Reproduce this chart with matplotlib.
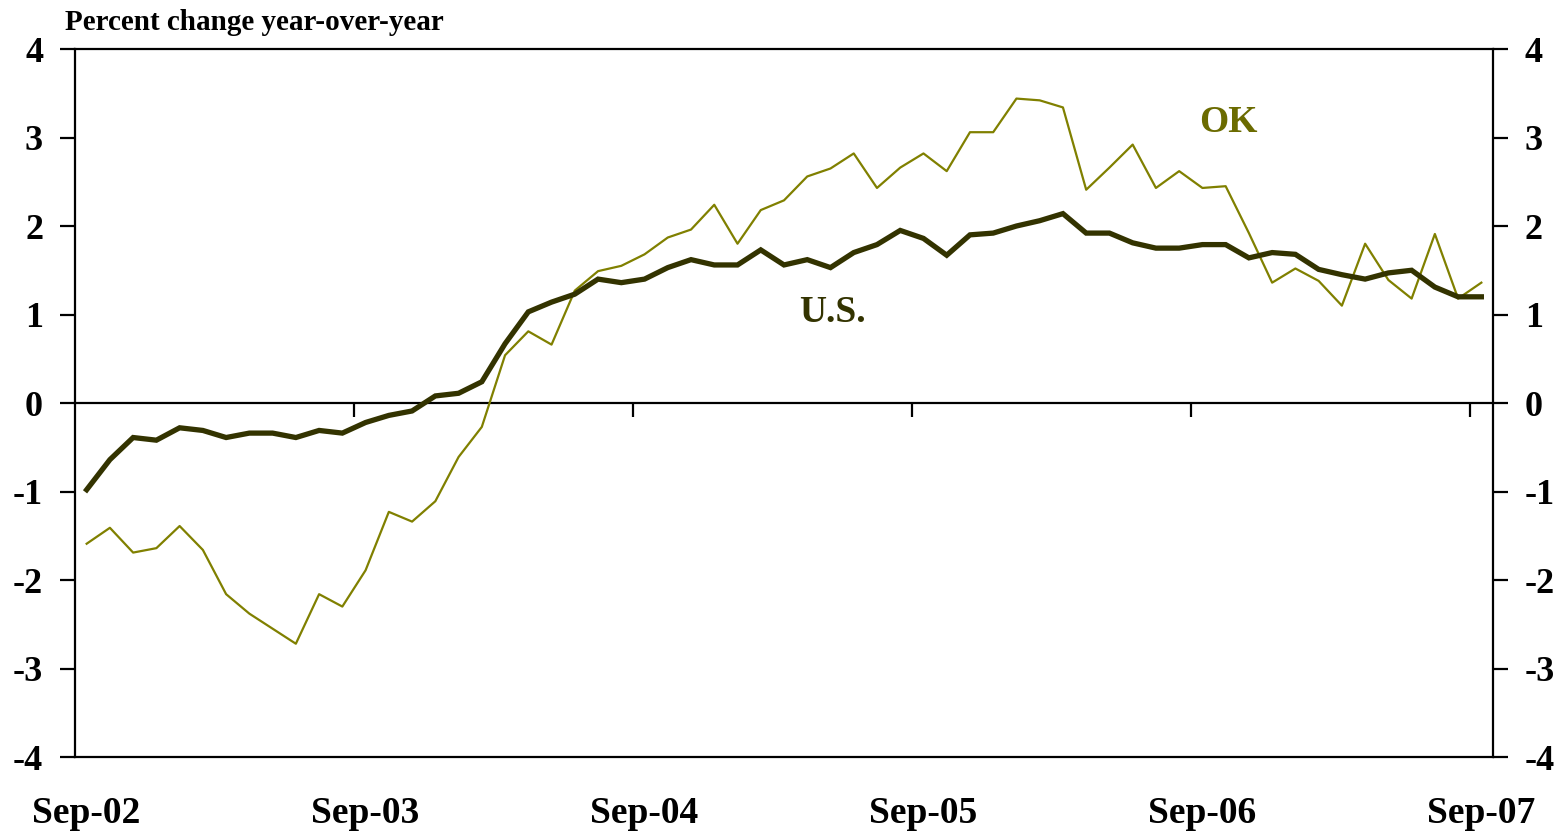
import matplotlib
matplotlib.use("Agg")
import matplotlib.pyplot as plt

plt.rcParams['font.family'] = ['Liberation Serif', 'DejaVu Serif']
plt.rcParams['font.weight'] = 'bold'

# monthly, Sep-02 .. Sep-07
us = [-0.98, -0.64, -0.39, -0.42, -0.28, -0.31, -0.39, -0.34, -0.34, -0.39, -0.31, -0.34,
      -0.22, -0.14, -0.09, 0.08, 0.11, 0.24, 0.67, 1.03, 1.14, 1.23, 1.40, 1.36,
      1.40, 1.53, 1.62, 1.56, 1.56, 1.73, 1.56, 1.62, 1.53, 1.70, 1.79, 1.95,
      1.86, 1.67, 1.90, 1.92, 2.00, 2.06, 2.14, 1.92, 1.92, 1.81, 1.75, 1.75,
      1.79, 1.79, 1.64, 1.70, 1.68, 1.51, 1.45, 1.40, 1.47, 1.50, 1.31, 1.20, 1.20]
ok = [-1.59, -1.41, -1.69, -1.64, -1.39, -1.66, -2.16, -2.38, -2.55, -2.72, -2.16, -2.30,
      -1.89, -1.23, -1.34, -1.11, -0.61, -0.27, 0.54, 0.81, 0.66, 1.27, 1.49, 1.55,
      1.68, 1.87, 1.96, 2.24, 1.80, 2.18, 2.29, 2.56, 2.65, 2.82, 2.43, 2.66,
      2.82, 2.62, 3.06, 3.06, 3.44, 3.42, 3.34, 2.41, 2.66, 2.92, 2.43, 2.62,
      2.43, 2.45, 1.92, 1.36, 1.52, 1.38, 1.10, 1.80, 1.39, 1.18, 1.91, 1.18, 1.36]
year_labels = ['Sep-02', 'Sep-03', 'Sep-04', 'Sep-05', 'Sep-06', 'Sep-07']
y_ticks = [-4, -3, -2, -1, 0, 1, 2, 3, 4]

us_color = '#333300'
ok_color = '#808000'

fig = plt.figure(figsize=(15.63, 8.35), dpi=100)
ax = fig.add_axes([0.048, 0.0934, 0.9072, 0.8479])

x = list(range(len(us)))
ax.plot(x, ok, color=ok_color, lw=1.6, zorder=3)
ax.plot(x, us, color=us_color, lw=3.8, zorder=4, solid_joinstyle='miter')

ax.set_xlim(-0.5, len(us) - 0.5)
ax.set_ylim(-4, 4)

for s in ax.spines.values():
    s.set_linewidth(1.6)
    s.set_color('black')

# y axis both sides
ax.set_yticks(y_ticks)
ax.set_yticklabels([str(v) for v in y_ticks])
ax.tick_params(axis='y', which='both', direction='out', length=11, width=1.6,
               left=True, right=True, labelleft=True, labelright=True,
               labelsize=26, pad=12)

# x labels at category centres, no tick marks on the frame
ax.set_xticks(x[::12])
ax.set_xticklabels(year_labels)
ax.tick_params(axis='x', length=0, labelsize=27, pad=28)

# zero line with year-boundary ticks
zero = ax.secondary_xaxis(0.5)
zero.set_xticks([i - 0.5 for i in x[12::12]])
zero.tick_params(direction='in', length=10, width=1.6, labelbottom=False, labeltop=False)
zero.spines['bottom'].set_linewidth(1.6)
zero.spines['top'].set_linewidth(1.6)

ax.text(32.1, 1.02, 'U.S.', color=us_color, fontsize=27, fontweight='bold',
        ha='center', va='center')
ax.text(49.1, 3.17, 'OK', color='#6b6b00', fontsize=27, fontweight='bold',
        ha='center', va='center')

fig.text(0.0416, 0.973, 'Percent change year-over-year', fontsize=21,
         fontweight='bold', ha='left', va='center')

fig.savefig('out.png', dpi=100)
